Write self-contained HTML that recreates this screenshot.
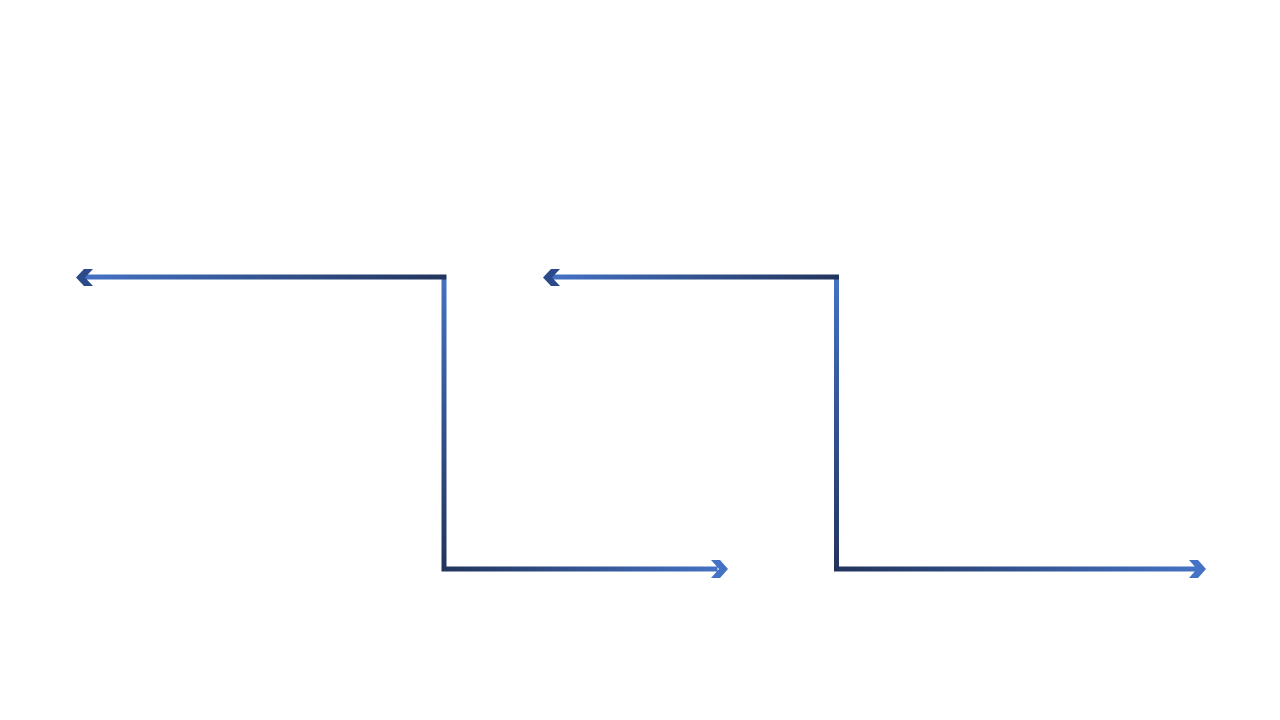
<!DOCTYPE html>
<html><head><style>html,body{margin:0;padding:0;background:#fff;width:1280px;height:720px;overflow:hidden}</style></head>
<body>
<svg width="1280" height="720" viewBox="0 0 1280 720" xmlns="http://www.w3.org/2000/svg">
<defs>
<linearGradient id="lr" x1="0" y1="0" x2="1" y2="0"><stop offset="0" stop-color="#4472C4"/><stop offset="1" stop-color="#22345C"/></linearGradient>
<linearGradient id="rl" x1="0" y1="0" x2="1" y2="0"><stop offset="0" stop-color="#22345C"/><stop offset="1" stop-color="#4472C4"/></linearGradient>
<linearGradient id="tb" x1="0" y1="0" x2="0" y2="1"><stop offset="0" stop-color="#4472C4"/><stop offset="1" stop-color="#22345C"/></linearGradient>
</defs>
<!-- group 1 -->
<rect x="441.5" y="274.5" width="5" height="297" fill="url(#tb)"/>
<rect x="84" y="274.5" width="362.5" height="5" fill="url(#lr)"/>
<rect x="441.5" y="566.5" width="276" height="5" fill="url(#rl)"/>
<polygon points="76,277.5 84,269 93,269 85,277.5 93,286 84,286" fill="#2B4A8A"/>
<polygon points="711,560 720,560 728,569 720,578 711,578 719,569" fill="#4472C4"/>
<!-- group 2 -->
<rect x="834" y="274.5" width="5" height="297" fill="url(#tb)"/>
<rect x="551" y="274.5" width="288" height="5" fill="url(#lr)"/>
<rect x="834" y="566.5" width="364" height="5" fill="url(#rl)"/>
<polygon points="543,277.5 551,269 560,269 552,277.5 560,286 551,286" fill="#2B4A8A"/>
<polygon points="1189,560 1198,560 1206,569 1198,578 1189,578 1197,569" fill="#4472C4"/>
</svg>
</body></html>
